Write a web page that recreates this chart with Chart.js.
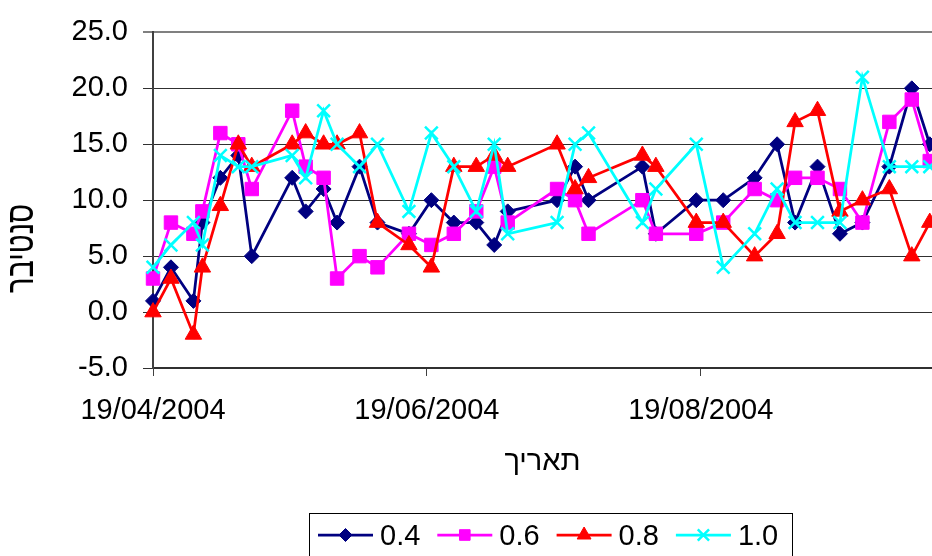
<!DOCTYPE html>
<html>
<head>
<meta charset="utf-8">
<script src="https://cdn.jsdelivr.net/npm/chart.js@4/dist/chart.umd.min.js"></script>
<style>
  html, body { margin: 0; padding: 0; background: #fff; }
  #wrap { width: 932px; height: 556px; position: relative; }
</style>
</head>
<body>
<div id="wrap"><canvas id="c" width="932" height="556"></canvas></div>
<script>
// Sampling dates (DD/MM/YYYY)
const dates = [
  '19/04/2004', '23/04/2004', '28/04/2004', '30/04/2004', '04/05/2004', '08/05/2004',
  '11/05/2004', '20/05/2004', '23/05/2004', '27/05/2004', '30/05/2004', '04/06/2004',
  '08/06/2004', '15/06/2004', '20/06/2004', '25/06/2004', '30/06/2004', '04/07/2004',
  '07/07/2004', '18/07/2004', '22/07/2004', '25/07/2004', '06/08/2004', '09/08/2004',
  '18/08/2004', '24/08/2004', '31/08/2004', '05/09/2004', '09/09/2004', '14/09/2004',
  '19/09/2004', '24/09/2004', '30/09/2004', '05/10/2004', '09/10/2004'
];

// Series values
const s04 = [1, 4, 1, 8, 12, 14, 5, 12, 9, 11, 8, 13, 8, 7, 10, 8, 8, 6, 9, 10, 13, 10, 13, 7, 10, 10, 12, 15, 8, 13, 7, 8, 13, 20, 15];
const s06 = [3, 8, 7, 9, 16, 15, 11, 18, 13, 12, 3, 5, 4, 7, 6, 7, 9, 13, 8, 11, 10, 7, 10, 7, 7, 8, 11, 10, 12, 12, 11, 8, 17, 19, 13.5];
const s08 = [0, 3, -2, 4, 9.5, 15, 13, 15, 16, 15, 15, 16, 8, 6, 4, 13, 13, 14, 13, 15, 11, 12, 14, 13, 8, 8, 5, 7, 17, 18, 9, 10, 11, 5, 8];
const s10 = [4, 6, 8, 6, 14, 13, 13, 14, 12, 18, 15, 13, 15, 9, 16, 13, 9, 15, 7, 8, 15, 16, 8, 11, 15, 4, 7, 11, 8, 8, 8, 21, 13, 13, 13];

const seriesNames = ['0.4', '0.6', '0.8', '1.0'];
const xTickLabels = ['19/04/2004', '19/06/2004', '19/08/2004'];
const xEndDate = '09/10/2004';
const xTitle = 'תאריך';
const yTitle = 'סנטיבר';

const FONT = '"Liberation Sans", Arial, sans-serif';

// Day offset of a DD/MM/YYYY string from the first tick date
function toUTC(s) {
  const [d, m, y] = s.split('/').map(Number);
  return Date.UTC(y, m - 1, d);
}
const origin = toUTC(xTickLabels[0]);
const dayOf = s => Math.round((toUTC(s) - origin) / 86400000);
const xDays = dates.map(dayOf);
const xTickDays = xTickLabels.map(dayOf);
const xMax = dayOf(xEndDate) + 0.5;

const styles = [
  { color: '#000080', pointStyle: 'rectRot',  radius: 7.5, legendRadius: 6.5, bw: 1 },
  { color: '#FF00FF', pointStyle: 'rect',     radius: 9.5, legendRadius: 7.5, bw: 1 },
  { color: '#FF0000', pointStyle: 'triangle', radius: 9.5, legendRadius: 8,   bw: 1 },
  { color: '#00FFFF', pointStyle: 'crossRot', radius: 9,   legendRadius: 8,   bw: 2.5 }
];
const seriesValues = [s04, s06, s08, s10];

const datasets = seriesValues.map((vals, i) => ({
  label: seriesNames[i],
  data: vals.map((v, k) => ({ x: xDays[k], y: v })),
  borderColor: styles[i].color,
  backgroundColor: styles[i].color,
  borderWidth: 2.75,
  tension: 0,
  pointStyle: styles[i].pointStyle,
  pointRadius: styles[i].radius,
  pointBackgroundColor: styles[i].color,
  pointBorderColor: styles[i].color,
  pointBorderWidth: styles[i].bw,
  order: seriesValues.length - i,
  clip: false
}));

// Axis titles and the boxed legend under the plot
const extras = {
  id: 'extras',
  afterDraw(chart) {
    const ctx = chart.ctx;
    const area = chart.chartArea;
    ctx.save();
    ctx.fillStyle = '#000';
    ctx.font = '29px ' + FONT;

    // x-axis title
    ctx.textAlign = 'center';
    ctx.textBaseline = 'alphabetic';
    ctx.fillText(xTitle, (area.left + chart.width) / 2, 470);

    // y-axis title (vertical, letters drawn slightly taller)
    ctx.save();
    ctx.translate(33, 248.5);
    ctx.rotate(-Math.PI / 2);
    ctx.scale(1, 1.35);
    ctx.font = '29px ' + FONT;
    ctx.textAlign = 'center';
    ctx.textBaseline = 'alphabetic';
    ctx.fillText(yTitle, 0, 0);
    ctx.restore();

    // legend box
    ctx.strokeStyle = '#000';
    ctx.lineWidth = 1;
    ctx.strokeRect(309.5, 513.5, 483, 60);
    const y = 535;
    seriesNames.forEach((name, i) => {
      const st = styles[i];
      const x0 = 318 + i * 119.3;
      const x1 = x0 + 55;
      ctx.strokeStyle = st.color;
      ctx.fillStyle = st.color;
      ctx.lineWidth = 2.75;
      ctx.beginPath();
      ctx.moveTo(x0, y);
      ctx.lineTo(x1, y);
      ctx.stroke();
      ctx.lineWidth = st.bw;
      Chart.helpers.drawPoint(ctx, {
        pointStyle: st.pointStyle, radius: st.legendRadius, rotation: 0, borderWidth: st.bw
      }, (x0 + x1) / 2, y);
      ctx.fillStyle = '#000';
      ctx.textAlign = 'left';
      ctx.textBaseline = 'middle';
      ctx.font = '29px ' + FONT;
      ctx.fillText(name, x1 + 7, y + 2);
    });
    ctx.restore();
  }
};

new Chart(document.getElementById('c'), {
  type: 'line',
  data: { datasets },
  options: {
    responsive: false,
    animation: false,
    layout: { autoPadding: false, padding: { top: 27, right: 0, bottom: 0, left: 0 } },
    plugins: { legend: { display: false }, tooltip: { enabled: false } },
    scales: {
      x: {
        type: 'linear',
        min: 0,
        max: xMax,
        afterBuildTicks: s => { s.ticks = xTickDays.map(v => ({ value: v })); },
        afterFit: s => { s.height = 188; },
        grid: { drawOnChartArea: false, drawTicks: true, tickLength: 8, color: '#404040', lineWidth: 1 },
        border: { display: true, color: '#303030', width: 2 },
        ticks: {
          autoSkip: false,
          maxRotation: 0,
          padding: 18,
          color: '#000',
          font: { family: FONT, size: 29 },
          callback: v => {
            const i = xTickDays.indexOf(v);
            return i >= 0 ? xTickLabels[i] : '';
          }
        }
      },
      y: {
        min: -5,
        max: 25,
        afterFit: s => { s.width = 153; },
        grid: {
          color: c => (c.tick && c.tick.value === 25) ? '#808080' : '#303030',
          lineWidth: c => (c.tick && c.tick.value === 25) ? 2 : 1,
          drawTicks: true,
          tickLength: 10
        },
        border: { display: true, color: '#404040', width: 2 },
        ticks: {
          stepSize: 5,
          padding: 15,
          color: '#000',
          font: { family: FONT, size: 29 },
          callback: v => Number(v).toFixed(1)
        }
      }
    }
  },
  plugins: [extras]
});
</script>
</body>
</html>
